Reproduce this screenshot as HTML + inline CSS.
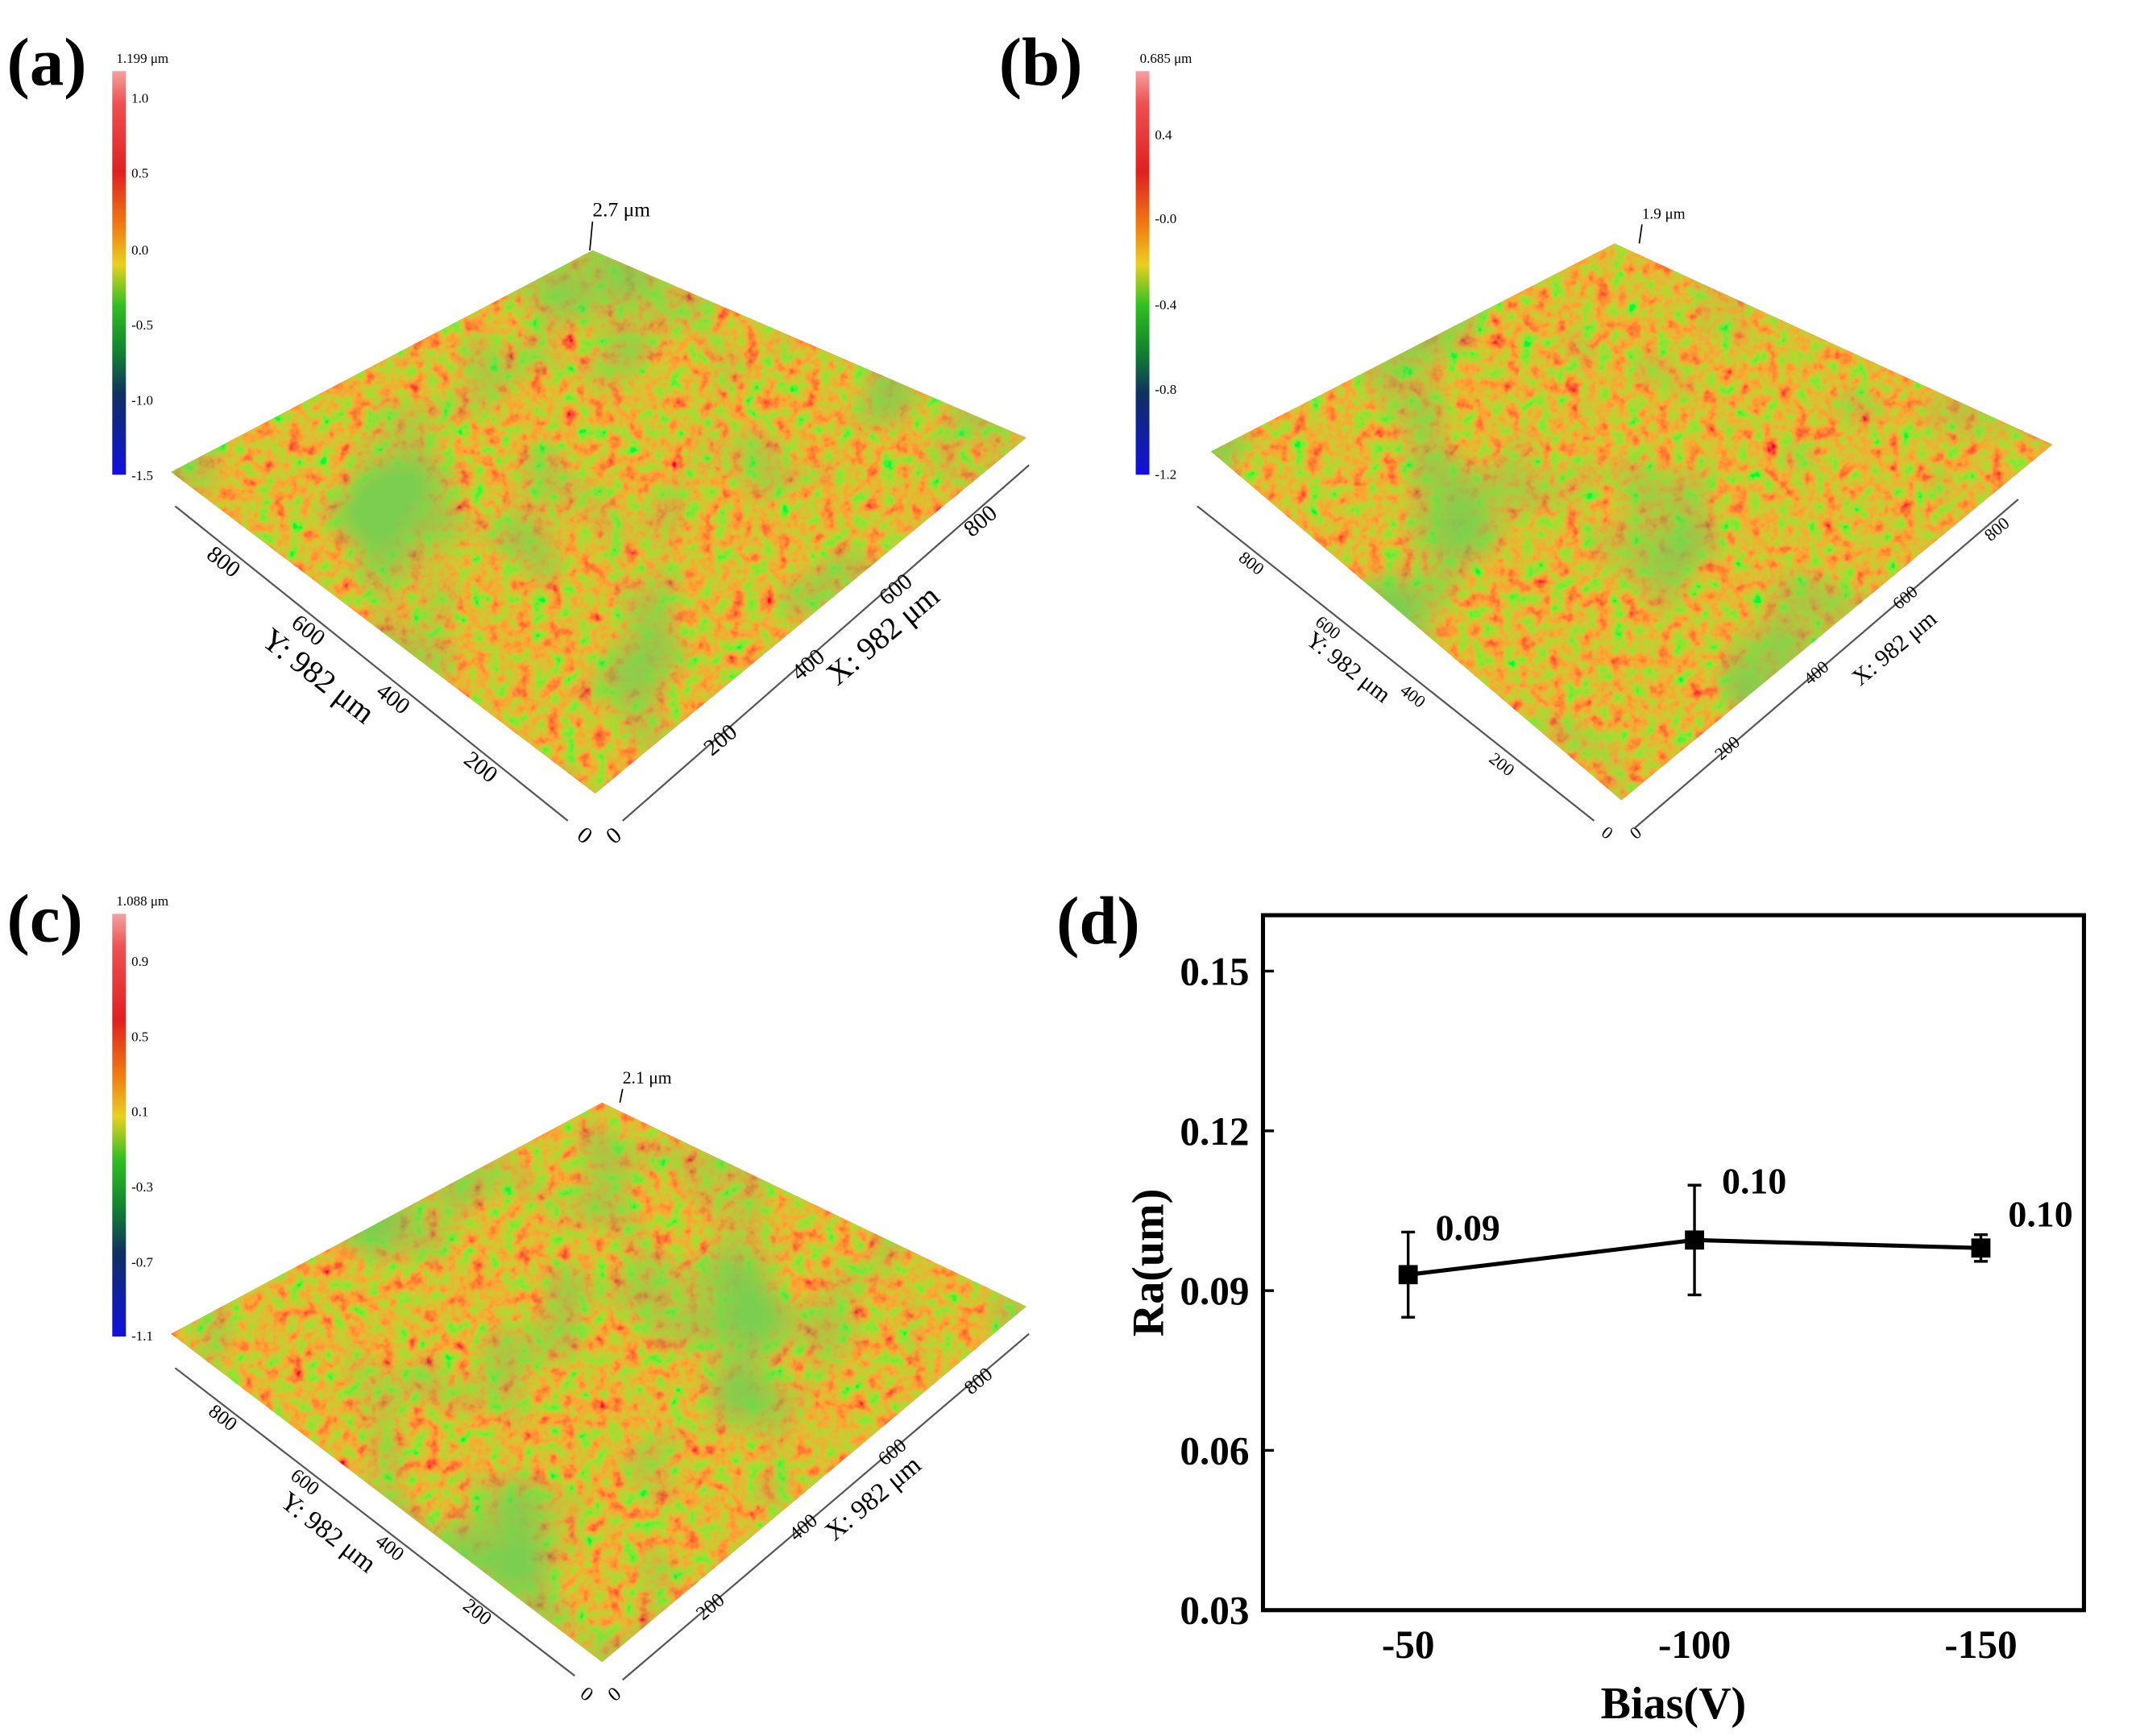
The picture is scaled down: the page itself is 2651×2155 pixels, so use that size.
<!DOCTYPE html>
<html><head><meta charset="utf-8"><style>
html,body{margin:0;padding:0;background:#fff;}
svg{display:block;}
text{font-family:"Liberation Serif",serif;}
</style></head><body>
<svg id="fig" width="2651" height="2155" viewBox="0 0 1561 1269" xmlns="http://www.w3.org/2000/svg">
<defs>
<linearGradient id="cbar" x1="0" y1="0" x2="0" y2="1">
<stop offset="0" stop-color="#f4a0a0"/><stop offset="0.08" stop-color="#ee5050"/><stop offset="0.25" stop-color="#e02020"/>
<stop offset="0.38" stop-color="#f07a10"/><stop offset="0.48" stop-color="#e8d020"/><stop offset="0.58" stop-color="#30c020"/>
<stop offset="0.7" stop-color="#108030"/><stop offset="0.8" stop-color="#103060"/><stop offset="1" stop-color="#1010e0"/>
</linearGradient>
<filter id="tex" x="0" y="0" width="1" height="1">
<feTurbulence type="fractalNoise" baseFrequency="0.09" numOctaves="3" seed="4" result="n"/>
<feColorMatrix in="n" type="matrix" values="2.2 0 0 0 -0.35  -1.3 0 0 0 1.15  0 0 0 0 0.03  0 0 0 0 1" result="c"/>
<feComposite in="c" in2="SourceGraphic" operator="in"/>
</filter>
<filter id="tex2" x="0" y="0" width="1" height="1">
<feTurbulence type="fractalNoise" baseFrequency="0.012" numOctaves="2" seed="9" result="n"/>
<feColorMatrix in="n" type="matrix" values="0 0 0 0 0.2  0 0 0 0 0.62  0 0 0 0 0.08  0 0 0 3 -1.5" result="c"/>
<feComposite in="c" in2="SourceGraphic" operator="in"/>
</filter>
</defs>
<g id="panels"></g>
<g id="chartd"></g>
</svg>
<script>
const NS="http://www.w3.org/2000/svg";
function mk(parent,tag,attrs,txt){const e=document.createElementNS(NS,tag);for(const k in attrs)e.setAttribute(k,attrs[k]);if(txt!==undefined)e.textContent=txt;parent.appendChild(e);return e;}
const panels=document.getElementById('panels');

const panelDefs=[
 {id:'a',label:'(a)',lx:5,ly:62,cb:[82,52,347],top:'1.199 μm',ticks:[['1.0',72],['0.5',127],['0.0',183],['-0.5',238],['-1.0',293],['-1.5',348]],
  surf:[[433,183],[750,320],[435,580],[125,345]],peak:'2.7 μm',pk:[433,158],
  yax:[[128,370],[415,600]],xax:[[455,600],[752,340]],fs:20,
  yt:[['800',160,415],['600',222,465],['400',284,515],['200',348,565],['0',424,615]],
  xt:[['0',452,615],['200',530,545],['400',594,490],['600',658,435],['800',720,385]],
  ylab:['Y: 982 μm',228,500,38],xlab:['X: 982 μm',650,470,-40]},
 {id:'b',label:'(b)',lx:730,ly:62,cb:[830,52,347],top:'0.685 μm',ticks:[['0.4',99],['-0.0',160],['-0.4',223],['-0.8',285],['-1.2',347]],
  surf:[[1180,178],[1500,325],[1185,585],[885,330]],peak:'1.9 μm',pk:[1200,160],
  yax:[[875,370],[1165,600]],xax:[[1195,605],[1475,365]],fs:15,
  yt:[['800',912,415],['600',968,462],['400',1030,512],['200',1095,562],['0',1172,612]],
  xt:[['0',1198,612],['200',1265,550],['400',1330,495],['600',1395,440],['800',1462,390]],
  ylab:['Y: 982 μm',982,492,38],xlab:['X: 982 μm',1388,478,-40]},
 {id:'c',label:'(c)',lx:5,ly:688,cb:[82,668,977],top:'1.088 μm',ticks:[['0.9',703],['0.5',758],['0.1',813],['-0.3',868],['-0.7',923],['-1.1',977]],
  surf:[[440,806],[750,955],[440,1215],[125,975]],peak:'2.1 μm',pk:[455,792],
  yax:[[128,1000],[420,1225]],xax:[[455,1228],[752,975]],fs:17,
  yt:[['800',160,1040],['600',220,1087],['400',282,1135],['200',346,1182],['0',426,1242]],
  xt:[['0',452,1242],['200',522,1178],['400',590,1120],['600',655,1065],['800',718,1013]],
  ylab:['Y: 982 μm',236,1125,38],xlab:['X: 982 μm',642,1100,-40]}
];
panelDefs.forEach(p=>{
 const g=mk(panels,'g',{});
 
 
 const lab=mk(g,'text',{x:p.lx,y:p.ly,'font-size':50,'font-weight':'bold'},p.label);
 
 
 const cb=mk(g,'rect',{x:p.cb[0],y:p.cb[1],width:10,height:p.cb[2]-p.cb[1],fill:'url(#cbar)'});
 
 
 mk(g,'text',{x:p.cb[0]+3,y:p.cb[1]-6,'font-size':10},p.top);
 p.ticks.forEach(t=>{const e=mk(g,'text',{x:p.cb[0]+14,y:t[1]+3,'font-size':10},t[0]);
  });
 const pts=p.surf.map(q=>q.join(',')).join(' ');
 const base=mk(g,'polygon',{points:pts,fill:'#c87020'});
 
 
 mk(g,'polygon',{points:pts,fill:'#fff',filter:'url(#tex)'});
 mk(g,'polygon',{points:pts,fill:'#fff',filter:'url(#tex2)'});
 mk(g,'line',{x1:p.pk[0],y1:p.pk[1]+4,x2:p.pk[0]-2,y2:p.surf[0][1],stroke:'#000','stroke-width':1});
 mk(g,'text',{x:p.pk[0],y:p.pk[1],'font-size':p.fs*0.75,'text-anchor':'start'},p.peak);
 [p.yax,p.xax].forEach(a=>mk(g,'line',{x1:a[0][0],y1:a[0][1],x2:a[1][0],y2:a[1][1],stroke:'#555','stroke-width':1.3}));
 p.yt.forEach(t=>{const e=mk(g,'text',{x:t[1],y:t[2],'font-size':p.fs*0.85,'text-anchor':'middle',transform:`rotate(38 ${t[1]} ${t[2]})`},t[0]);
  });
 p.xt.forEach(t=>{const e=mk(g,'text',{x:t[1],y:t[2],'font-size':p.fs*0.85,'text-anchor':'middle',transform:`rotate(-40 ${t[1]} ${t[2]})`},t[0]);
  });
 [p.ylab,p.xlab].forEach((l,i)=>{const e=mk(g,'text',{x:l[1],y:l[2],'font-size':p.fs*1.15,'text-anchor':'middle',transform:`rotate(${l[3]} ${l[1]} ${l[2]})`},l[0]);
  });
});
</script>
<script>
// Panel (d) data
const categories=['-50','-100','-150'];
const raValues=[0.093,0.0995,0.098];
const raErrors=[0.008,0.0103,0.0025];
const valueLabels=['0.09','0.10','0.10'];
const yTicks=[0.03,0.06,0.09,0.12,0.15];
const yTickLabels=['0.03','0.06','0.09','0.12','0.15'];

const d=document.getElementById('chartd');
const L=923,R=1523,T=669,B=1177;
const yMin=0.03,yMax=0.1605;
const y=v=>B-(v-yMin)/(yMax-yMin)*(B-T);
const x=i=>L+(i+0.507)/(2.36+0.507)*(R-L);
const plab=mk(d,'text',{x:772,y:690,'font-size':50,'font-weight':'bold'},'(d)');


const frame=mk(d,'rect',{x:L,y:T,width:R-L,height:B-T,fill:'none',stroke:'#000','stroke-width':3});


yTicks.forEach((v,i)=>{
 mk(d,'line',{x1:L,x2:L+8,y1:y(v),y2:y(v),stroke:'#000','stroke-width':2});
 const t=mk(d,'text',{x:L-10,y:y(v)+10,'font-size':29,'font-weight':'bold','text-anchor':'end'},yTickLabels[i]);
 
 
});
categories.forEach((c,i)=>{
 const t=mk(d,'text',{x:x(i),y:1212,'font-size':29,'font-weight':'bold','text-anchor':'middle'},c);
 
 
});
const xt=mk(d,'text',{x:1223,y:1256,'font-size':33,'font-weight':'bold','text-anchor':'middle'},'Bias(V)');


const yt=mk(d,'text',{x:850,y:923,'font-size':33,'font-weight':'bold','text-anchor':'middle',transform:'rotate(-90 850 923)'},'Ra(um)');


const line=mk(d,'polyline',{points:raValues.map((v,i)=>x(i)+','+y(v)).join(' '),fill:'none',stroke:'#000','stroke-width':3});


raValues.forEach((v,i)=>{
 const cx=x(i),lo=y(v-raErrors[i]),hi=y(v+raErrors[i]);
 const eb=mk(d,'path',{d:`M${cx},${lo}V${hi}M${cx-5},${lo}H${cx+5}M${cx-5},${hi}H${cx+5}`,stroke:'#000','stroke-width':2,fill:'none'});
 
 
 const m=mk(d,'rect',{x:cx-7,y:y(v)-7,width:14,height:14,fill:'#000'});
 
 
 const vl=mk(d,'text',{x:cx+20,y:y(v+raErrors[i])+(i===2?-6:6),'font-size':27,'font-weight':'bold'},valueLabels[i]);
 
 
});
</script>
</body></html>
